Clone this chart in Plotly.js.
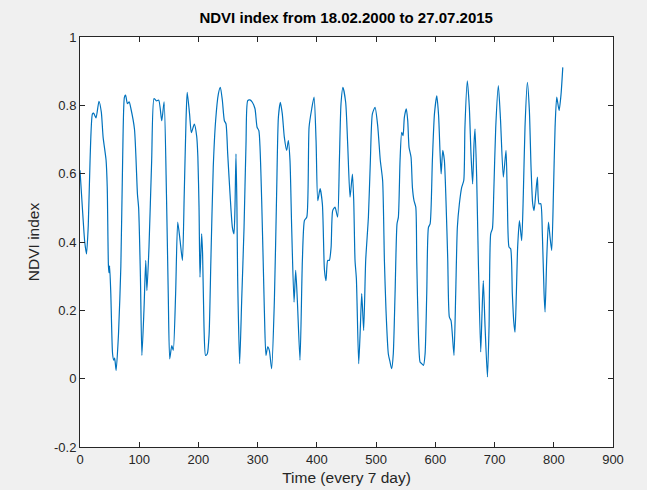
<!DOCTYPE html>
<html>
<head>
<meta charset="utf-8">
<script src="https://cdn.plot.ly/plotly-3.0.1.min.js"></script>
<style>html,body{margin:0;padding:0;background:#f0f0f0;}</style>
</head>
<body>
<div id="chart" style="width:647px;height:490px;"></div>
<script>
// Time (every 7 day) sample positions
var timeX = [0,4,8,11,14,17,21,23,27,32,36,39,44,46,48,49,50,52,55,57,58.5,61,65,69,72,75,77,80,83,86,92,97,99,102,104.5,108,111,113,116.5,121,125,129,133,138,142,146,149,151.5,155,157.5,161.5,165,169,173,176,179,181,185,188,193,197,199,201,202.6,205.4,207,209.4,212,215,218,221,225,229,233.6,237,240.4,243.8,246.5,249.4,253.3,257.3,260,261.7,263.4,265,266.2,269.6,273,277,280.3,283.2,287,291,295.5,299,302,306.8,311.3,314,317,319.7,323.6,328.2,332,335,338.3,341.6,345,349,351.8,354.6,357.4,361.4,364.2,367,371.5,375.5,379,383,386.8,391.3,395.2,398.6,401.5,405.4,409.3,412.7,415.4,418.2,421,424,426.7,430.6,435,438,440.7,444,448.6,452,456,460,462.2,464.4,466.7,470.6,473.4,475.7,479,482.4,487,490.3,493.7,498.2,502.7,507,511,514,516.7,520.6,523.5,526.3,529,532,535.3,537.6,540.4,543.2,545.5,547.7,551,553.4,555.6,559,561.3,564,567,568.6,571.4,574.2,577,580,582.7,585.5,588.4,591.2,595,598.5,602.5,605.5,608,609.8,612.5,615.3,618,621,623.7,626.5,628.7,631.5,634.4,637.2,640.6,644.5,648,650,654,657.4,660.2,663,665.3,667,669.8,672.6,676.6,678.8,681,684,688,690.7,693.5,696.4,698.6,702,706.4,710,714.8,719.4,721.6,724.4,727.2,730,732.3,734.5,736.8,739,742,745.8,748.6,751.4,755.4,758.8,761.6,764.4,766.7,769.5,772.3,775,778,780.7,783.6,785.3,788,791,793.7,796.5,799.4,802.2,805,809,812.3,815.2];
// NDVI index values
var ndvi = [0.61,0.50,0.40,0.365,0.45,0.64,0.775,0.777,0.763,0.812,0.78,0.707,0.64,0.56,0.33,0.31,0.33,0.25,0.073,0.054,0.06,0.024,0.13,0.33,0.64,0.824,0.83,0.805,0.81,0.79,0.73,0.54,0.50,0.30,0.068,0.2,0.346,0.258,0.385,0.638,0.82,0.813,0.815,0.755,0.81,0.54,0.25,0.058,0.097,0.083,0.25,0.458,0.404,0.346,0.54,0.755,0.838,0.775,0.72,0.745,0.71,0.65,0.50,0.297,0.424,0.366,0.151,0.068,0.073,0.13,0.346,0.619,0.755,0.833,0.853,0.814,0.755,0.746,0.658,0.541,0.443,0.424,0.502,0.658,0.50,0.297,0.044,0.229,0.443,0.687,0.814,0.816,0.809,0.79,0.736,0.726,0.521,0.2,0.068,0.093,0.083,0.029,0.229,0.541,0.765,0.809,0.775,0.707,0.668,0.697,0.638,0.443,0.224,0.317,0.229,0.054,0.346,0.463,0.473,0.736,0.79,0.824,0.697,0.521,0.556,0.51,0.32,0.287,0.346,0.346,0.385,0.492,0.502,0.473,0.638,0.804,0.853,0.809,0.687,0.531,0.599,0.521,0.346,0.292,0.044,0.151,0.249,0.141,0.346,0.473,0.638,0.775,0.794,0.74,0.64,0.58,0.346,0.2,0.073,0.049,0.029,0.073,0.249,0.453,0.473,0.638,0.721,0.711,0.765,0.79,0.755,0.677,0.648,0.56,0.521,0.502,0.346,0.132,0.049,0.044,0.039,0.073,0.249,0.443,0.453,0.638,0.775,0.828,0.77,0.66,0.599,0.668,0.638,0.521,0.346,0.18,0.17,0.13,0.068,0.249,0.443,0.512,0.56,0.58,0.736,0.872,0.794,0.658,0.57,0.687,0.731,0.59,0.346,0.078,0.19,0.287,0.151,0.005,0.151,0.424,0.439,0.541,0.736,0.858,0.76,0.59,0.668,0.521,0.385,0.38,0.249,0.17,0.136,0.249,0.385,0.463,0.404,0.541,0.736,0.867,0.785,0.619,0.512,0.492,0.541,0.59,0.512,0.512,0.424,0.249,0.195,0.346,0.458,0.414,0.375,0.541,0.736,0.824,0.785,0.833,0.911];

var xTickVals = [0,100,200,300,400,500,600,700,800,900];
var xTickText = ['0','100','200','300','400','500','600','700','800','900'];
var yTickVals = [-0.2,0,0.2,0.4,0.6,0.8,1];
var yTickText = ['-0.2','0','0.2','0.4','0.6','0.8','1'];

var FONT = 'Liberation Sans, Arial, sans-serif';

var trace = {
  x: timeX, y: ndvi, type: 'scatter', mode: 'lines',
  line: {color: '#0072BD', width: 1.2, shape: 'spline', smoothing: 0.6},
  hoverinfo: 'x+y'
};

var axisCommon = {
  showgrid: false, zeroline: false, showline: true, mirror: 'ticks',
  linecolor: '#262626', linewidth: 1, ticks: 'inside', ticklen: 5,
  tickcolor: '#262626', tickfont: {family: FONT, size: 13, color: '#262626'}
};

var layout = {
  width: 647, height: 490,
  paper_bgcolor: '#f0f0f0', plot_bgcolor: '#ffffff',
  margin: {l: 80, r: 34, t: 37, b: 43},
  showlegend: false,
  title: {text: 'NDVI index from 18.02.2000 to 27.07.2015',
    font: {family: FONT, size: 15, color: '#000000', weight: 'bold'},
    x: 0.5351, xanchor: 'center', y: 0.963, yanchor: 'middle'},
  xaxis: Object.assign({}, axisCommon, {
    range: [0, 900], tickvals: xTickVals, ticktext: xTickText,
    title: {text: 'Time (every 7 day)', standoff: 6, font: {family: FONT, size: 15.5, color: '#262626'}}
  }),
  yaxis: Object.assign({}, axisCommon, {
    range: [-0.2, 1], tickvals: yTickVals, ticktext: yTickText,
    title: {text: 'NDVI index', standoff: 10, font: {family: FONT, size: 15.5, color: '#262626'}}
  })
};

Plotly.newPlot('chart', [trace], layout, {displayModeBar: false, staticPlot: true});
</script>
</body>
</html>
